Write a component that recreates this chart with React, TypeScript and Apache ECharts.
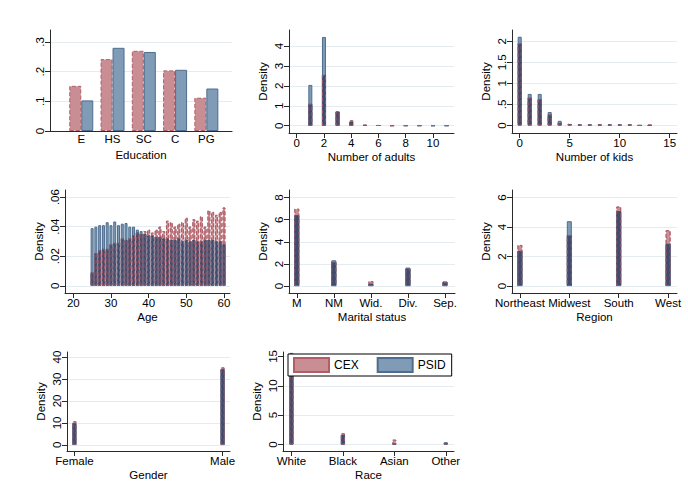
import React, { useEffect, useRef } from 'react';
import * as echarts from 'echarts';

// ---------- data ----------
const eduCats = ['E', 'HS', 'SC', 'C', 'PG'];
const eduCEX = [0.152, 0.242, 0.27, 0.204, 0.112];
const eduPSID = [0.103, 0.28, 0.266, 0.206, 0.143];

const adultVals = [1, 2, 3, 4, 5, 6, 7, 8, 9, 10, 11];
const adultCEX = [1.1, 2.55, 0.72, 0.28, 0.05, 0.02, 0.0, 0.02, 0.02, 0.02, 0.02];
const adultPSID = [2.05, 4.46, 0.71, 0.2, 0.03, 0.02, 0.02, 0.0, 0.0, 0.0, 0.0];

const kidVals = [0, 1, 2, 3, 4, 5, 6, 7, 8, 9, 10, 11, 12, 13];
const kidCEX = [1.95, 0.66, 0.62, 0.26, 0.06, 0.04, 0.02, 0.02, 0.02, 0.02, 0.02, 0.02, 0.0, 0.02];
const kidPSID = [2.11, 0.75, 0.75, 0.32, 0.11, 0.03, 0.02, 0.02, 0.02, 0.02, 0.02, 0.02, 0.0, 0.0];

const ageVals = [25, 26, 27, 28, 29, 30, 31, 32, 33, 34, 35, 36, 37, 38, 39, 40, 41, 42,
  43, 44, 45, 46, 47, 48, 49, 50, 51, 52, 53, 54, 55, 56, 57, 58, 59, 60];
const ageCEX = [0.009, 0.022, 0.024, 0.025, 0.025, 0.028, 0.029, 0.029, 0.032, 0.031, 0.032, 0.034,
  0.036, 0.035, 0.037, 0.038, 0.036, 0.038, 0.04, 0.037, 0.044, 0.043, 0.04, 0.042, 0.043, 0.046,
  0.04, 0.045, 0.044, 0.047, 0.04, 0.051, 0.05, 0.048, 0.05, 0.053];
const agePSID = [0.039, 0.04, 0.041, 0.041, 0.043, 0.041, 0.0435, 0.041, 0.042, 0.0425, 0.04, 0.04,
  0.038, 0.037, 0.035, 0.034, 0.034, 0.033, 0.033, 0.032, 0.032, 0.031, 0.031, 0.032, 0.03, 0.031,
  0.03, 0.031, 0.03, 0.03, 0.031, 0.031, 0.031, 0.03, 0.03, 0.028];

const maritalCats = ['M', 'NM', 'Wid.', 'Div.', 'Sep.'];
const maritalCEX = [7.0, 2.17, 0.45, 1.57, 0.35];
const maritalPSID = [6.4, 2.33, 0.2, 1.67, 0.42];

const regionCats = ['Northeast', 'Midwest', 'South', 'West'];
const regionCEX = [2.79, 3.45, 5.4, 3.79];
const regionPSID = [2.38, 4.4, 5.08, 2.86];

const genderCats = ['Female', 'Male'];
const genderCEX = [10.8, 35.3];
const genderPSID = [9.8, 34.4];

const raceCats = ['White', 'Black', 'Asian', 'Other'];
const raceCEX = [15.2, 1.92, 0.84, 0.25];
const racePSID = [15.6, 1.63, 0.15, 0.4];

const adultTicks = [0, 2, 4, 6, 8, 10];
const kidTicks = [0, 5, 10, 15];
const ageTicks = [20, 30, 40, 50, 60];

// ---------- styles ----------
const FONT = '"Liberation Sans", Arial, Helvetica, sans-serif';
const FS = 11.5;
const AX = '#2a2a2a';
const GRIDC = '#e4ecf0';
const PINK = '#c98e94';
const PINK_EDGE = '#b05f69';
const BLUE = '#7f9bb6';
const BLUE_EDGE = '#4e6d8f';
const NAVY = '#3f4c6d';

const fmtNum = (v: number) => {
  const r = Math.round(v * 10000) / 10000;
  if (r === 0) return '0';
  const s = String(r);
  return s.startsWith('0.') ? s.slice(1) : s;
};
const range = (n: number, start: number) => Array.from({ length: n }, (_, i) => i + start);

type Panel = {
  grid: { left: number; top: number; width: number; height: number };
  xMin: number; xMax: number; xTicks: number[]; xFmt: (v: number) => string;
  yMin: number; yMax: number; yTicks: number[];
  xName: string; yName: string; barWidth: number; xs: number[];
  cex: number[]; psid: number[]; kind: 'side' | 'overlay'; xTickShow: boolean; labelMargin: number;
};

const catFmt = (cats: string[], off: number) => (v: number) => cats[Math.round(v - off)] ?? '';

const panels: Panel[] = [
  {
    grid: { left: 50, top: 30, width: 182, height: 101 },
    xMin: 0, xMax: 5.82, xTicks: range(eduCats.length, 1), xFmt: catFmt(eduCats, 1),
    yMin: 0, yMax: 0.34, yTicks: [0, 0.1, 0.2, 0.3],
    xName: 'Education', yName: '', barWidth: 12, xs: range(eduCats.length, 1),
    cex: eduCEX, psid: eduPSID, kind: 'side', xTickShow: false, labelMargin: 2,
  },
  {
    grid: { left: 289, top: 30, width: 165, height: 103 },
    xMin: -0.565, xMax: 11.54, xTicks: adultTicks, xFmt: fmtNum,
    yMin: -0.367, yMax: 4.81, yTicks: [0, 1, 2, 3, 4],
    xName: 'Number of adults', yName: 'Density', barWidth: 4, xs: adultVals,
    cex: adultCEX, psid: adultPSID, kind: 'overlay', xTickShow: true, labelMargin: 4,
  },
  {
    grid: { left: 512, top: 30, width: 165, height: 103 },
    xMin: -0.77, xMax: 15.73, xTicks: kidTicks, xFmt: fmtNum,
    yMin: -0.18, yMax: 2.27, yTicks: [0, 0.5, 1, 1.5, 2],
    xName: 'Number of kids', yName: 'Density', barWidth: 4, xs: kidVals,
    cex: kidCEX, psid: kidPSID, kind: 'overlay', xTickShow: true, labelMargin: 4,
  },
  {
    grid: { left: 65, top: 190, width: 165, height: 103 },
    xMin: 17.8, xMax: 61.6, xTicks: ageTicks, xFmt: fmtNum,
    yMin: -0.0049, yMax: 0.0648, yTicks: [0, 0.02, 0.04, 0.06],
    xName: 'Age', yName: 'Density', barWidth: 3, xs: ageVals,
    cex: ageCEX, psid: agePSID, kind: 'overlay', xTickShow: true, labelMargin: 4,
  },
  {
    grid: { left: 289, top: 190, width: 166, height: 103 },
    xMin: 0.79, xMax: 5.27, xTicks: range(maritalCats.length, 1), xFmt: catFmt(maritalCats, 1),
    yMin: -0.63, yMax: 8.69, yTicks: [0, 2, 4, 6, 8],
    xName: 'Marital status', yName: 'Density', barWidth: 5, xs: range(maritalCats.length, 1),
    cex: maritalCEX, psid: maritalPSID, kind: 'overlay', xTickShow: true, labelMargin: 4,
  },
  {
    grid: { left: 512, top: 190, width: 165, height: 103 },
    xMin: 0.84, xMax: 4.18, xTicks: range(regionCats.length, 1), xFmt: catFmt(regionCats, 1),
    yMin: -0.475, yMax: 6.52, yTicks: [0, 2, 4, 6],
    xName: 'Region', yName: 'Density', barWidth: 5, xs: range(regionCats.length, 1),
    cex: regionCEX, psid: regionPSID, kind: 'overlay', xTickShow: true, labelMargin: 4,
  },
  {
    grid: { left: 67, top: 352, width: 163, height: 100 },
    xMin: -0.05, xMax: 1.05, xTicks: range(genderCats.length, 0), xFmt: catFmt(genderCats, 0),
    yMin: -2.8, yMax: 42.3, yTicks: [0, 10, 20, 30, 40],
    xName: 'Gender', yName: 'Density', barWidth: 4, xs: range(genderCats.length, 0),
    cex: genderCEX, psid: genderPSID, kind: 'overlay', xTickShow: true, labelMargin: 4,
  },
  {
    grid: { left: 283, top: 352, width: 171, height: 100 },
    xMin: 0.836, xMax: 4.16, xTicks: range(raceCats.length, 1), xFmt: catFmt(raceCats, 1),
    yMin: -1.1, yMax: 15.75, yTicks: [0, 5, 10, 15],
    xName: 'Race', yName: 'Density', barWidth: 4, xs: range(raceCats.length, 1),
    cex: raceCEX, psid: racePSID, kind: 'overlay', xTickShow: true, labelMargin: 4,
  },
];

const textBase = { fontFamily: FONT, fontSize: FS, color: '#000' };

function buildOption() {
  const grid: any[] = [];
  const xAxis: any[] = [];
  const yAxis: any[] = [];
  const series: any[] = [];

  panels.forEach((p, i) => {
    grid.push({ ...p.grid, containLabel: false });
    xAxis.push({
      gridIndex: i, type: 'value', min: p.xMin, max: p.xMax,
      name: p.xName, nameLocation: 'middle', nameGap: 18, nameTextStyle: { ...textBase },
      axisLine: { show: true, onZero: false, lineStyle: { color: AX, width: 1 } },
      axisTick: { show: p.xTickShow, length: 5, lineStyle: { color: AX }, customValues: p.xTicks },
      axisLabel: { ...textBase, customValues: p.xTicks, formatter: p.xFmt, margin: p.labelMargin, hideOverlap: false },
      splitLine: { show: false },
    });
    yAxis.push({
      gridIndex: i, type: 'value', min: p.yMin, max: p.yMax,
      name: p.yName, nameLocation: 'middle', nameGap: 20, nameRotate: 90, nameTextStyle: { ...textBase },
      axisLine: { show: true, onZero: false, lineStyle: { color: AX, width: 1 } },
      axisTick: { show: true, length: 5, lineStyle: { color: AX }, customValues: p.yTicks },
      axisLabel: { ...textBase, rotate: 90, customValues: p.yTicks, formatter: fmtNum, margin: 4, hideOverlap: false },
      splitLine: { show: true, lineStyle: { color: GRIDC, width: 1 } },
    });

    const pts = (ys: number[]) => p.xs.map((x, j) => [x, ys[j]]);
    const common = { type: 'bar', xAxisIndex: i, yAxisIndex: i, barWidth: p.barWidth, silent: true };
    const cexStyle = { color: PINK, borderColor: PINK_EDGE, borderWidth: 1, borderType: [4, 2] };
    const psidStyle = { color: BLUE, borderColor: BLUE_EDGE, borderWidth: 1 };

    if (p.kind === 'side') {
      series.push({ ...common, name: 'CEX', data: pts(p.cex), barGap: '0%', itemStyle: cexStyle });
      series.push({ ...common, name: 'PSID', data: pts(p.psid), barGap: '0%', itemStyle: psidStyle });
    } else {
      series.push({ ...common, name: 'CEX', data: pts(p.cex), barGap: '-100%', itemStyle: cexStyle });
      series.push({ ...common, name: 'PSID', data: pts(p.psid), barGap: '-100%', itemStyle: psidStyle });
      series.push({
        ...common, name: 'both', data: p.xs.map((x, j) => [x, Math.min(p.cex[j], p.psid[j])]),
        barGap: '-100%', itemStyle: { color: NAVY, borderColor: NAVY, borderWidth: 0.5 },
      });
      series.push({
        ...common, name: 'CEX edge', data: pts(p.cex), barGap: '-100%',
        itemStyle: { color: 'rgba(0,0,0,0)', borderColor: PINK_EDGE, borderWidth: 1, borderType: [4, 2], opacity: 0.75 },
      });
    }
  });

  return {
    animation: false,
    backgroundColor: '#ffffff',
    textStyle: { fontFamily: FONT },
    legend: {
      data: ['CEX', 'PSID'],
      left: 288, top: 354,
      orient: 'horizontal',
      itemWidth: 35, itemHeight: 14, itemGap: 18,
      padding: [3, 6, 3, 5],
      backgroundColor: '#ffffff', borderColor: '#000', borderWidth: 1, borderRadius: 0,
      icon: 'rect',
      selectedMode: false,
      textStyle: { ...textBase, fontSize: 12 },
    },
    grid, xAxis, yAxis, series,
  };
}

export default function App() {
  const ref = useRef<HTMLDivElement>(null);
  useEffect(() => {
    if (!ref.current) return;
    const chart = echarts.init(ref.current, undefined, { renderer: 'svg' });
    chart.setOption(buildOption() as any);
    return () => chart.dispose();
  }, []);
  return (
    <div
      ref={ref}
      style={{ position: 'fixed', left: 0, top: 0, width: 688, height: 482, background: '#fff' }}
    />
  );
}
